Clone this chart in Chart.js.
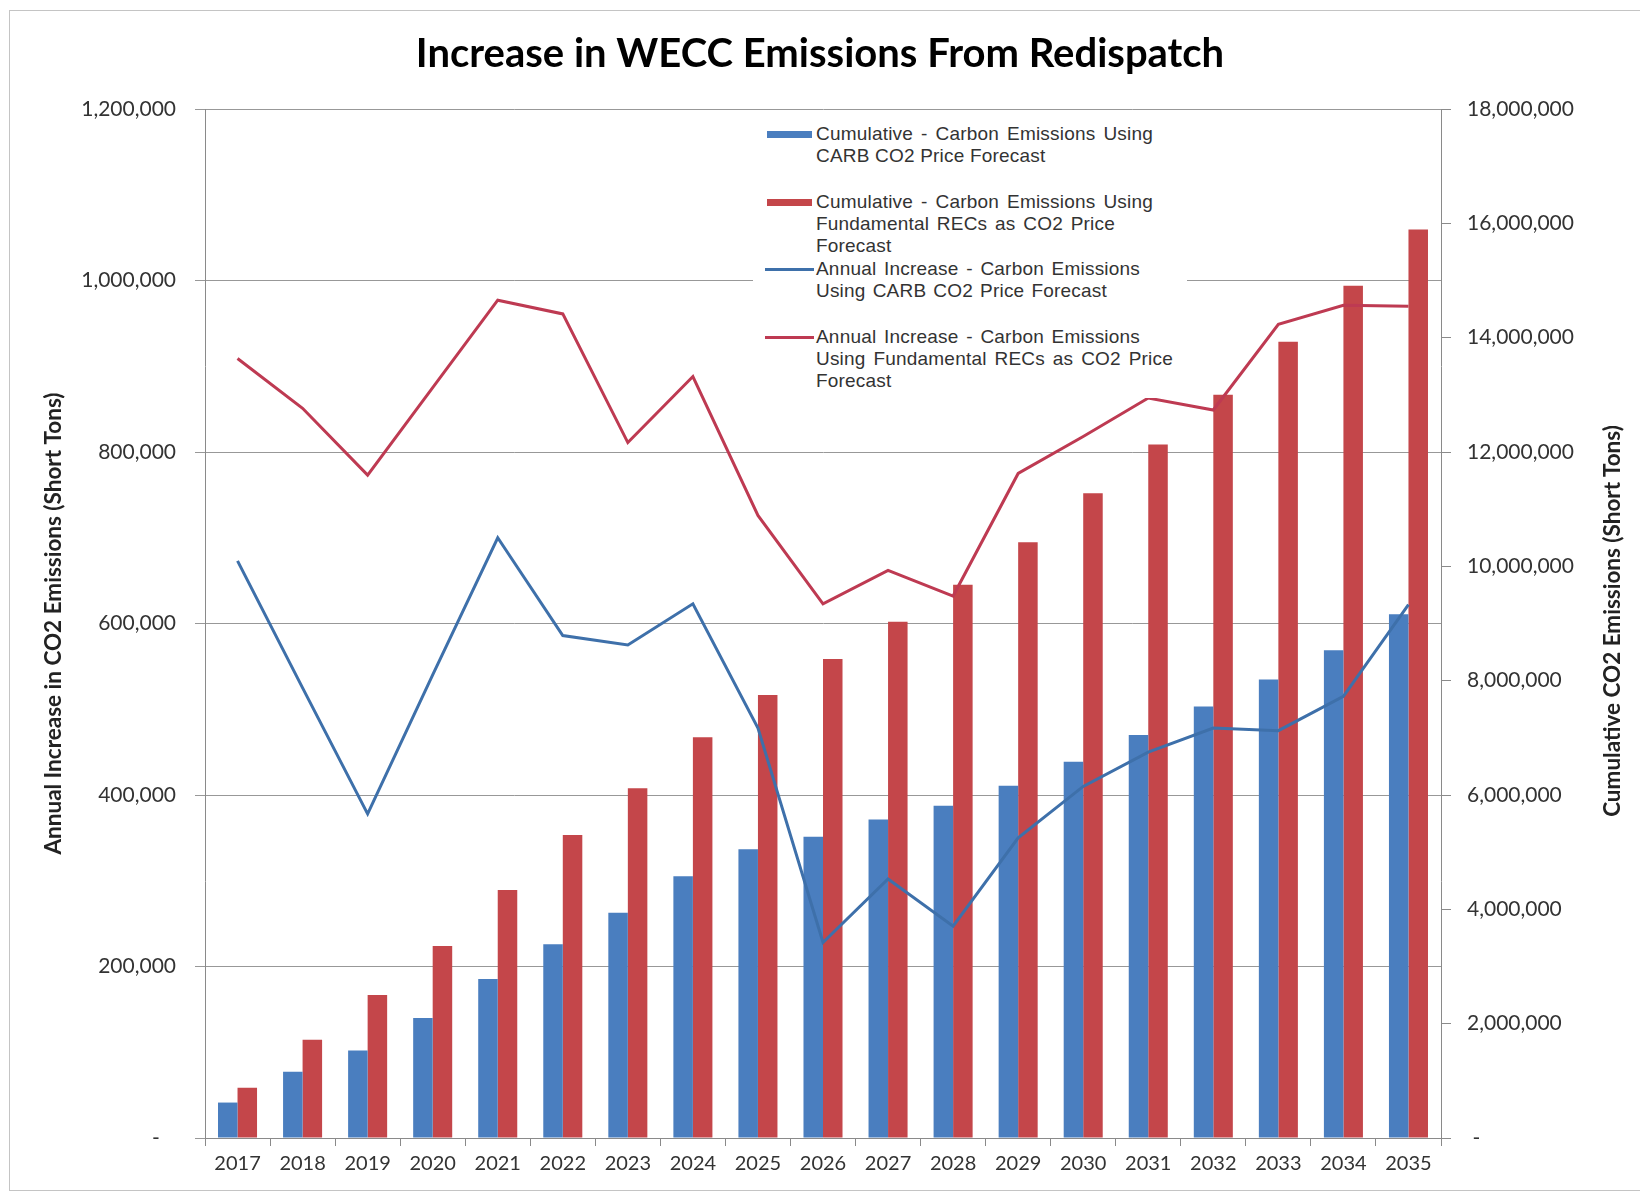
<!DOCTYPE html>
<html>
<head>
<meta charset="utf-8">
<script src="https://cdn.jsdelivr.net/npm/chart.js@4"></script>
<style>
  html, body { margin: 0; padding: 0; background: #fff; overflow: hidden; }
  #wrap { position: relative; width: 1640px; height: 1194px; }
  #frame { position: absolute; left: 9px; top: 10px; width: 1640px; height: 1181px; border: 1.5px solid #c4c4c4; box-sizing: border-box; pointer-events: none; }
  canvas { position: absolute; left: 0; top: 0; }
  #legend { position: absolute; left: 753px; top: 116px; width: 434px; height: 282px; background: #fff; }
  .entry { position: absolute; left: 0; width: 434px; }
  .sym { position: absolute; }
  .line { position: absolute; left: 63px; height: 22px; line-height: 22px; white-space: nowrap;
          font-family: "Liberation Sans", Arial, sans-serif; font-size: 19px; letter-spacing: 0.2px; color: #333; }
  .line.just { text-align: justify; text-align-last: justify; }
  #y2title { position: absolute; left: 1611px; top: 621px; transform: translate(-50%, -50%) rotate(-90deg);
             white-space: nowrap; font-family: Lato, sans-serif; font-size: 22.5px; font-weight: bold; color: #222; }
</style>
</head>
<body>
<div id="wrap">
  <canvas id="chart" width="1640" height="1194"></canvas>
  <div id="legend"></div>
  <div id="y2title"></div>
  <div id="frame"></div>
</div>
<script>
// categories
const years = ['2017', '2018', '2019', '2020', '2021', '2022', '2023', '2024', '2025', '2026',
               '2027', '2028', '2029', '2030', '2031', '2032', '2033', '2034', '2035'];

// cumulative emissions (right axis, short tons)
const cumulativeCarb = [620000, 1160000, 1530000, 2100000, 2780000, 3390000, 3940000, 4580000, 5050000, 5270000,
                        5570000, 5810000, 6160000, 6580000, 7050000, 7550000, 8020000, 8530000, 9160000];
const cumulativeRecs = [880000, 1720000, 2500000, 3360000, 4340000, 5300000, 6120000, 7010000, 7750000, 8380000,
                        9030000, 9680000, 10420000, 11280000, 12130000, 13000000, 13930000, 14910000, 15890000];

// annual increase (left axis, short tons)
const annualCarb = [673000, 525000, 378000, 540000, 700000, 586000, 575000, 623000, 478000, 228000,
                    302000, 247000, 350000, 410000, 450000, 478000, 475000, 515000, 622000];
const annualRecs = [909000, 851000, 773000, 875000, 977000, 961000, 811000, 888000, 726000, 623000,
                    662000, 632000, 775000, 818000, 863000, 849000, 949000, 971000, 970000];

// axis ranges / ticks
const leftMax = 1200000, leftStep = 200000;
const rightMax = 18000000, rightStep = 2000000;

// texts
const chartTitle = 'Increase in WECC Emissions From Redispatch';
const leftTitle = 'Annual Increase in CO2 Emissions (Short Tons)';
const rightTitle = 'Cumulative CO2 Emissions (Short Tons)';
const legendLines = [
    ['Cumulative  - Carbon  Emissions Using', 'CARB CO2 Price Forecast'],
    ['Cumulative  - Carbon  Emissions Using', 'Fundamental  RECs as CO2 Price', 'Forecast'],
    ['Annual Increase  - Carbon  Emissions', 'Using CARB CO2 Price Forecast'],
    ['Annual Increase  - Carbon  Emissions', 'Using Fundamental  RECs as CO2 Price', 'Forecast']
];

const colors = {
    barBlue: '#4A7EBF',
    barRed: '#C4464A',
    lineBlue: '#3E70AA',
    lineRed: '#BE3A52',
    grid: '#989898',
    axis: '#8a8a8a',
    text: '#333'
};

const fmt = v => v.toLocaleString('en-US');

const ctx = document.getElementById('chart').getContext('2d');
const chart = new Chart(ctx, {
    type: 'bar',
    data: {
        labels: years,
        datasets: [
            {
                type: 'bar',
                label: legendLines[0].join(' '),
                data: cumulativeCarb,
                yAxisID: 'y2',
                backgroundColor: colors.barBlue,
                categoryPercentage: 0.6,
                barPercentage: 1.0,
                order: 1
            },
            {
                type: 'bar',
                label: legendLines[1].join(' '),
                data: cumulativeRecs,
                yAxisID: 'y2',
                backgroundColor: colors.barRed,
                categoryPercentage: 0.6,
                barPercentage: 1.0,
                order: 1
            },
            {
                type: 'line',
                label: legendLines[2].join(' '),
                data: annualCarb,
                yAxisID: 'y',
                borderColor: colors.lineBlue,
                borderWidth: 3,
                pointRadius: 0,
                tension: 0,
                fill: false,
                order: 0
            },
            {
                type: 'line',
                label: legendLines[3].join(' '),
                data: annualRecs,
                yAxisID: 'y',
                borderColor: colors.lineRed,
                borderWidth: 3,
                pointRadius: 0,
                tension: 0,
                fill: false,
                order: 0
            }
        ]
    },
    options: {
        responsive: false,
        animation: false,
        layout: { padding: 0 },
        plugins: {
            legend: { display: false },
            tooltip: { enabled: false },
            title: {
                display: true,
                text: chartTitle,
                color: '#000',
                font: { family: 'Lato', size: 40, weight: 'bold' },
                padding: { top: 30, bottom: 31 }
            }
        },
        scales: {
            x: {
                grid: { offset: true, drawOnChartArea: false, drawTicks: true, tickLength: 8, color: colors.axis },
                border: { color: colors.axis },
                ticks: { color: colors.text, font: { family: 'Lato', size: 20 }, padding: 6, maxRotation: 0 },
                afterFit: s => { s.height = 56; }
            },
            y: {
                position: 'left',
                min: 0,
                max: leftMax,
                grid: { color: colors.grid, tickLength: 10 },
                border: { color: colors.axis },
                ticks: {
                    stepSize: leftStep,
                    color: colors.text,
                    font: { family: 'Lato', size: 21 },
                    padding: 19,
                    callback: v => v === 0 ? '-   ' : fmt(v)
                },
                title: {
                    display: true,
                    text: leftTitle,
                    color: '#222',
                    font: { family: 'Lato', size: 22.5, weight: 'bold' },
                    padding: { top: 40, bottom: 0 }
                },
                afterFit: s => { s.width = 205; }
            },
            y2: {
                position: 'right',
                min: 0,
                max: rightMax,
                grid: { drawOnChartArea: false, tickLength: 10, color: colors.axis },
                border: { color: colors.axis },
                ticks: {
                    stepSize: rightStep,
                    color: colors.text,
                    font: { family: 'Lato', size: 21 },
                    padding: 16,
                    callback: v => v === 0 ? ' -' : fmt(v)
                },
                afterFit: s => { s.width = 199; }
            }
        }
    }
});

// right axis title reads bottom-to-top like the left one
document.getElementById('y2title').textContent = rightTitle;

// legend box inside the plot, built from the datasets
const legend = document.getElementById('legend');
const lineWidths = [[337, null], [337, 299, null], [324, 291], [324, 357, null]];
chart.data.datasets.forEach((ds, i) => {
    const entry = document.createElement('div');
    entry.className = 'entry';
    entry.style.top = (7 + i * 67.5) + 'px';
    const sym = document.createElement('div');
    sym.className = 'sym';
    if (ds.type === 'bar') {
        sym.style.cssText = `left:14px;top:8px;width:45px;height:7px;background:${ds.backgroundColor}`;
    } else {
        sym.style.cssText = `left:12px;top:10px;width:49px;height:3px;background:${ds.borderColor}`;
    }
    entry.appendChild(sym);
    legendLines[i].forEach((txt, j) => {
        const ln = document.createElement('div');
        ln.className = 'line';
        ln.style.top = (j * 22) + 'px';
        const w = lineWidths[i][j];
        if (w) { ln.classList.add('just'); ln.style.width = w + 'px'; ln.style.whiteSpace = 'normal'; }
        ln.textContent = txt;
        entry.appendChild(ln);
    });
    legend.appendChild(entry);
});
</script>
</body>
</html>
